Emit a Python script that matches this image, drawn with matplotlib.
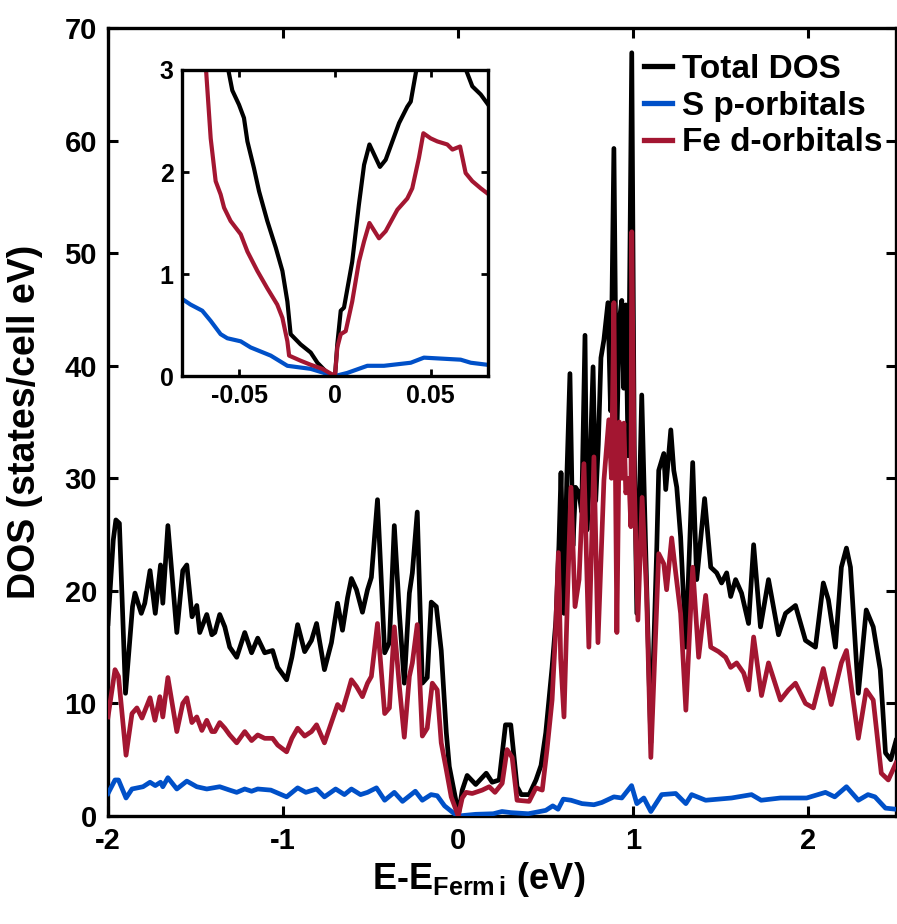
import numpy as np
import matplotlib
matplotlib.use("Agg")
import matplotlib.pyplot as plt

plt.rcParams['font.family'] = ['Liberation Sans', 'DejaVu Sans']
plt.rcParams['font.weight'] = 'bold'
plt.rcParams['axes.unicode_minus'] = False
plt.rcParams['mathtext.fontset'] = 'custom'
plt.rcParams['mathtext.bf'] = 'Liberation Sans:bold'
plt.rcParams['mathtext.rm'] = 'Liberation Sans:bold'

# ---- main panel data (energy in eV, DOS in states/cell eV) ----
E_tot = [-2.00, -1.97, -1.955, -1.935, -1.90, -1.86, -1.846, -1.81, -1.79, -1.76,
         -1.73, -1.70, -1.687, -1.658, -1.607, -1.573, -1.55, -1.52, -1.493, -1.476,
         -1.436, -1.407, -1.39, -1.362, -1.333, -1.305, -1.265, -1.219, -1.18, -1.145,
         -1.105, -1.06, -1.031, -0.98, -0.95, -0.917, -0.877, -0.838, -0.809, -0.764,
         -0.724, -0.689, -0.661, -0.632, -0.61, -0.581, -0.547, -0.518, -0.496, -0.461,
         -0.42, -0.393, -0.365, -0.336, -0.308, -0.279, -0.262, -0.234, -0.205, -0.177,
         -0.154, -0.125, -0.097, -0.068, -0.051, -0.011, 0.0, 0.023, 0.051, 0.10,
         0.16, 0.194, 0.234, 0.27, 0.30, 0.336, 0.36, 0.405, 0.444, 0.473,
         0.50, 0.536, 0.558, 0.575, 0.587, 0.604, 0.62, 0.638, 0.655, 0.67,
         0.69, 0.705, 0.724, 0.735, 0.75, 0.77, 0.785, 0.80, 0.815, 0.832,
         0.855, 0.87, 0.889, 0.905, 0.92, 0.934, 0.945, 0.957, 0.97, 0.991,
         1.005, 1.02, 1.048, 1.07, 1.10, 1.134, 1.145, 1.174, 1.185, 1.214,
         1.231, 1.248, 1.27, 1.30, 1.339, 1.362, 1.407, 1.442, 1.476, 1.504,
         1.533, 1.556, 1.584, 1.618, 1.658, 1.687, 1.726, 1.772, 1.829, 1.869,
         1.926, 1.983, 2.04, 2.085, 2.114, 2.154, 2.188, 2.217, 2.24, 2.285,
         2.33, 2.37, 2.41, 2.44, 2.47, 2.50]
DOS_tot = [17.1, 24.5, 26.3, 26.0, 10.9, 18.6, 19.8, 18.0, 18.9, 21.8,
           18.0, 22.3, 18.9, 25.8, 16.3, 21.8, 22.3, 17.7, 18.7, 16.3,
           17.9, 16.1, 16.3, 17.9, 16.8, 15.0, 14.1, 16.3, 14.5, 15.8,
           14.5, 14.7, 13.2, 12.1, 14.1, 17.0, 14.6, 15.6, 17.1, 13.0,
           15.4, 18.9, 16.5, 19.4, 21.1, 20.1, 18.1, 20.1, 21.2, 28.1,
           14.5, 15.4, 25.8, 18.0, 11.8, 19.8, 21.6, 27.0, 11.8, 12.3,
           19.0, 18.6, 14.7, 7.4, 4.4, 1.2, 0.0, 2.3, 3.6, 2.8,
           3.8, 3.0, 3.2, 8.1, 8.1, 2.6, 1.9, 1.9, 3.2, 4.5,
           7.4, 13.2, 17.4, 24.0, 30.5, 18.0, 30.0, 39.3, 24.0, 29.2,
           28.7, 27.0, 42.7, 25.4, 30.0, 39.9, 28.0, 33.0, 40.7, 42.3,
           45.6, 36.0, 59.3, 33.0, 44.0, 45.8, 38.0, 45.4, 32.0, 67.8,
           33.0, 18.0, 37.4, 24.0, 6.5, 23.9, 30.7, 32.2, 29.0, 34.3,
           30.7, 29.2, 24.8, 15.0, 31.4, 21.0, 28.2, 22.1, 21.6, 20.7,
           21.6, 19.5, 21.0, 19.8, 17.1, 24.1, 16.8, 21.0, 16.1, 18.0,
           18.7, 15.6, 15.0, 20.7, 19.2, 15.0, 22.1, 23.8, 22.1, 10.9,
           18.3, 16.8, 13.0, 5.6, 5.0, 6.7]

E_sp = [-2.00, -1.96, -1.94, -1.897, -1.863, -1.80, -1.76, -1.73, -1.70, -1.687,
        -1.658, -1.607, -1.55, -1.493, -1.436, -1.362, -1.305, -1.265, -1.219, -1.18,
        -1.145, -1.07, -0.98, -0.917, -0.87, -0.809, -0.764, -0.70, -0.65, -0.61,
        -0.558, -0.518, -0.467, -0.42, -0.365, -0.318, -0.245, -0.205, -0.155, -0.12,
        -0.078, -0.03, 0.0, 0.10, 0.20, 0.25, 0.30, 0.40, 0.50, 0.54,
        0.57, 0.60, 0.644, 0.707, 0.775, 0.82, 0.889, 0.934, 0.99, 1.02,
        1.06, 1.10, 1.162, 1.242, 1.30, 1.333, 1.413, 1.561, 1.675, 1.73,
        1.84, 1.99, 2.097, 2.15, 2.217, 2.285, 2.34, 2.38, 2.44, 2.50]
DOS_sp = [2.0, 3.2, 3.2, 1.6, 2.4, 2.6, 3.0, 2.7, 3.0, 2.6,
          3.4, 2.4, 3.1, 2.6, 2.4, 2.6, 2.3, 2.1, 2.4, 2.2,
          2.4, 2.3, 1.7, 2.5, 2.1, 2.4, 1.7, 2.4, 1.9, 2.4,
          1.9, 2.1, 2.5, 1.4, 2.1, 1.3, 2.2, 1.4, 1.9, 1.8,
          0.9, 0.3, 0.0, 0.15, 0.2, 0.4, 0.3, 0.2, 0.5, 0.9,
          0.6, 1.5, 1.4, 1.1, 1.0, 1.2, 1.7, 1.6, 2.7, 1.1,
          1.6, 0.4, 1.9, 2.0, 1.1, 1.9, 1.4, 1.6, 1.9, 1.4,
          1.6, 1.6, 2.1, 1.7, 2.6, 1.4, 1.9, 1.7, 0.7, 0.6]

E_fed = [-2.00, -1.96, -1.94, -1.897, -1.863, -1.835, -1.806, -1.76, -1.732, -1.704,
         -1.687, -1.658, -1.607, -1.573, -1.55, -1.521, -1.493, -1.464, -1.436, -1.407,
         -1.39, -1.362, -1.333, -1.305, -1.265, -1.219, -1.18, -1.145, -1.105, -1.06,
         -1.031, -0.98, -0.95, -0.917, -0.877, -0.838, -0.809, -0.764, -0.724, -0.689,
         -0.661, -0.632, -0.61, -0.581, -0.547, -0.518, -0.496, -0.461, -0.42, -0.393,
         -0.365, -0.336, -0.308, -0.279, -0.262, -0.234, -0.205, -0.177, -0.148, -0.12,
         -0.097, -0.068, -0.04, 0.0, 0.023, 0.045, 0.08, 0.137, 0.177, 0.21,
         0.251, 0.279, 0.308, 0.336, 0.405, 0.444, 0.48, 0.507, 0.536, 0.555,
         0.572, 0.585, 0.604, 0.625, 0.644, 0.667, 0.69, 0.718, 0.746, 0.775,
         0.798, 0.832, 0.86, 0.875, 0.889, 0.906, 0.92, 0.935, 0.946, 0.957,
         0.975, 0.986, 0.991, 1.005, 1.026, 1.05, 1.075, 1.10, 1.145, 1.174,
         1.19, 1.219, 1.242, 1.27, 1.30, 1.339, 1.373, 1.413, 1.442, 1.487,
         1.527, 1.556, 1.59, 1.63, 1.658, 1.687, 1.732, 1.772, 1.84, 1.886,
         1.926, 1.983, 2.028, 2.085, 2.13, 2.188, 2.217, 2.285, 2.33, 2.37,
         2.416, 2.456, 2.50]
DOS_fed = [8.8, 13.0, 12.4, 5.4, 9.1, 9.6, 8.7, 10.5, 8.5, 10.6,
           8.8, 12.3, 7.5, 10.0, 10.5, 8.3, 8.8, 7.6, 8.5, 7.5,
           7.5, 8.3, 7.8, 7.2, 6.5, 7.5, 6.7, 7.2, 6.9, 6.9,
           6.3, 5.7, 6.9, 7.8, 7.1, 7.5, 8.1, 6.5, 8.3, 9.9,
           9.4, 10.9, 12.1, 11.5, 10.6, 11.8, 12.4, 17.1, 9.1, 9.6,
           16.8, 11.5, 7.0, 12.4, 13.6, 17.0, 7.1, 7.8, 11.8, 11.2,
           6.5, 4.1, 1.7, 0.0, 1.6, 2.1, 2.0, 2.3, 2.6, 2.1,
           2.9, 5.9, 5.2, 1.4, 1.3, 2.5, 2.3, 5.9, 10.3, 16.0,
           23.4, 14.0, 8.8, 20.0, 29.2, 18.6, 21.0, 31.3, 15.0, 31.9,
           15.4, 29.8, 35.2, 30.0, 45.6, 16.3, 35.0, 30.0, 34.9, 28.7,
           30.0, 25.7, 51.9, 30.0, 17.4, 28.3, 20.0, 5.2, 23.3, 22.4,
           20.1, 24.7, 21.6, 18.0, 9.4, 22.1, 14.1, 19.6, 15.0, 14.6,
           14.1, 13.2, 13.6, 12.7, 11.2, 15.9, 10.7, 13.6, 10.3, 11.2,
           11.8, 10.0, 9.6, 13.1, 9.9, 13.6, 14.7, 6.9, 11.2, 10.3,
           3.8, 3.2, 4.7]

# ---- inset data (zoom around the Fermi level) ----
Ei_tot = [-0.0563, -0.0537, -0.0502, -0.0476, -0.0458, -0.0424, -0.0397, -0.0354, -0.031,
          -0.0275, -0.0249, -0.0232, -0.018, -0.0127, -0.0092, -0.004, 0.0, 0.0012,
          0.003, 0.0047, 0.009, 0.0125, 0.0152, 0.018, 0.0235, 0.0265, 0.030,
          0.0335, 0.0378, 0.0396, 0.043, 0.0675, 0.0718, 0.0762, 0.0797]
Di_tot = [3.05, 2.80, 2.66, 2.53, 2.30, 2.04, 1.81, 1.52, 1.26,
          1.03, 0.73, 0.41, 0.31, 0.23, 0.13, 0.03, 0.0, 0.31,
          0.64, 0.67, 1.12, 1.68, 2.07, 2.27, 2.05, 2.12, 2.30,
          2.48, 2.64, 2.69, 3.05, 3.05, 2.84, 2.76, 2.67]
# the total DOS leaves the inset window between 0.043 and 0.0675 eV
Di_gap = [0.043, 0.0675]

Ei_fed = [-0.0676, -0.065, -0.0624, -0.0598, -0.058, -0.0546, -0.0493, -0.0458, -0.0406,
          -0.0354, -0.0302, -0.0275, -0.0249, -0.024, -0.018, -0.0127, -0.0066, 0.0,
          0.0012, 0.003, 0.0056, 0.009, 0.0125, 0.0152, 0.018, 0.023, 0.0265,
          0.0326, 0.0378, 0.0404, 0.0439, 0.0462, 0.05, 0.0535, 0.0587, 0.0614,
          0.0654, 0.0683, 0.0718, 0.0762, 0.0797]
Di_fed = [3.05, 2.33, 1.91, 1.78, 1.65, 1.52, 1.39, 1.22, 1.03,
          0.86, 0.70, 0.57, 0.34, 0.20, 0.15, 0.11, 0.07, 0.0,
          0.28, 0.41, 0.44, 0.73, 1.12, 1.32, 1.50, 1.35, 1.42,
          1.63, 1.74, 1.84, 2.14, 2.38, 2.33, 2.30, 2.27, 2.22,
          2.25, 1.99, 1.91, 1.84, 1.79]

Ei_sp = [-0.0795, -0.0755, -0.0694, -0.065, -0.0598, -0.0563, -0.0493, -0.0441, -0.0336,
         -0.0249, -0.0127, -0.004, 0.0, 0.0064, 0.0169, 0.0256, 0.0396, 0.0465,
         0.0657, 0.071, 0.0797]
Di_sp = [0.75, 0.70, 0.64, 0.54, 0.41, 0.37, 0.34, 0.28, 0.20,
         0.10, 0.07, 0.02, 0.0, 0.03, 0.10, 0.10, 0.13, 0.18,
         0.16, 0.13, 0.11]

C_TOT = 'black'
C_SP = '#0050c8'
C_FED = '#a31631'

fig = plt.figure(figsize=(8.97, 9.24), dpi=100)
ax = fig.add_axes([108/897, 108/924, 788/897, 788/924])

ax.plot(E_tot, DOS_tot, color=C_TOT, lw=3.4, label='Total DOS', zorder=3)
ax.plot(E_sp, DOS_sp, color=C_SP, lw=3.4, label='S p-orbitals', zorder=4)
ax.plot(E_fed, DOS_fed, color=C_FED, lw=3.4, label='Fe d-orbitals', zorder=5)

ax.set_xlim(-2, 2.5)
ax.set_ylim(0, 70)
ax.set_xticks([-2, -1, 0, 1, 2])
ax.set_yticks(range(0, 71, 10))
ax.tick_params(direction='in', length=7, width=2.2, labelsize=21,
               top=True, right=True, pad=8)
for s in ax.spines.values():
    s.set_linewidth(2.4)
ax.set_xlabel(r'E-E$_{\mathbf{Ferm\,i}}$ (eV)', fontsize=26, fontweight='bold')
ax.xaxis.set_label_coords(0.47, -0.056)
ax.set_ylabel('DOS (states/cell eV)', fontsize=27, fontweight='bold')
ax.yaxis.set_label_coords(-0.082, 0.5)

leg = ax.legend(loc='upper right', bbox_to_anchor=(1.0, 0.984), frameon=False,
                fontsize=24, handlelength=0.85, handletextpad=0.3,
                labelspacing=0.17, borderaxespad=0)
for ln in leg.get_lines():
    ln.set_linewidth(3.8)

# inset
axi = fig.add_axes([182/897, (924-376)/924, 306/897, 306/924])
tot_x = np.array(Ei_tot)
tot_y = np.array(Di_tot)
left = tot_x <= Di_gap[0]
axi.plot(tot_x[left], tot_y[left], color=C_TOT, lw=3.0)
axi.plot(tot_x[~left], tot_y[~left], color=C_TOT, lw=3.0)
axi.plot(Ei_sp, Di_sp, color=C_SP, lw=3.0)
axi.plot(Ei_fed, Di_fed, color=C_FED, lw=3.0)
axi.set_xlim(-0.08, 0.08)
axi.set_ylim(0, 3)
axi.set_xticks([-0.05, 0, 0.05])
axi.set_xticklabels(['-0.05', '0', '0.05'])
axi.set_yticks([0, 1, 2, 3])
axi.tick_params(direction='in', length=5, width=2.0, labelsize=18,
                top=True, right=True, pad=6)
for s in axi.spines.values():
    s.set_linewidth(2.4)

fig.savefig('out.png', dpi=100)
